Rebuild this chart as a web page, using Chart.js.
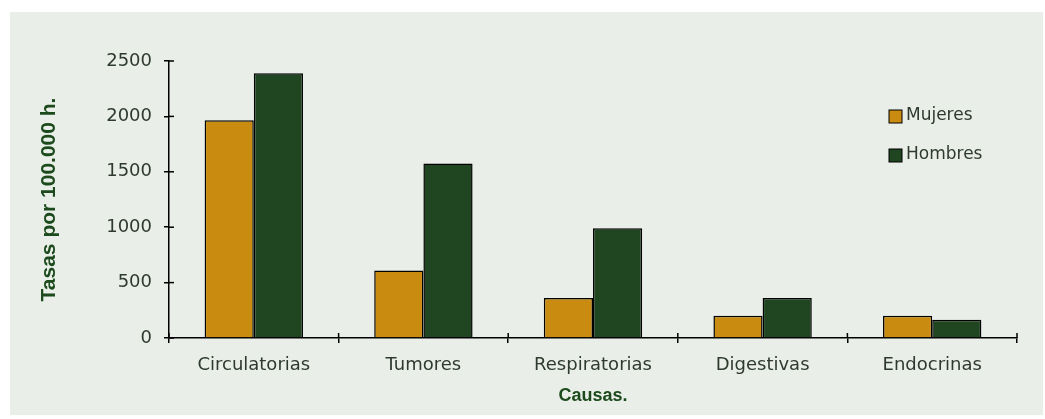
<!DOCTYPE html>
<html>
<head>
<meta charset="utf-8">
<script src="https://cdn.jsdelivr.net/npm/chart.js@4"></script>
<style>
  body { margin: 0; background: #fff; }
  #wrap { width: 1045px; height: 419px; }
</style>
</head>
<body>
<div id="wrap"><canvas id="grafico"></canvas></div>
<script>
const causas = ['Circulatorias', 'Tumores', 'Respiratorias', 'Digestivas', 'Endocrinas'];
const mujeres = [1965, 610, 360, 200, 200];
const hombres = [2390, 1575, 990, 360, 165];
const ticksY = [0, 500, 1000, 1500, 2000, 2500];

// fondo del panel verde claro
const fondo = {
  id: 'fondo',
  beforeDraw(chart) {
    const ctx = chart.ctx;
    ctx.save();
    ctx.fillStyle = '#e9efe8';
    ctx.fillRect(10, 12, 1033, 403);
    ctx.restore();
  }
};

// marcas que cruzan el eje hacia dentro
const marcas = {
  id: 'marcas',
  afterDraw(chart) {
    const ctx = chart.ctx;
    const x = chart.scales.x, y = chart.scales.y;
    ctx.save();
    ctx.strokeStyle = '#000';
    ctx.lineWidth = 1.5;
    y.ticks.forEach((t, i) => {
      const py = y.getPixelForTick(i);
      ctx.beginPath(); ctx.moveTo(x.left, py); ctx.lineTo(x.left + 5, py); ctx.stroke();
    });
    for (let i = 0; i <= causas.length; i++) {
      const px = x.left + (x.right - x.left) * i / causas.length;
      ctx.beginPath(); ctx.moveTo(px, y.bottom); ctx.lineTo(px, y.bottom - 5); ctx.stroke();
    }
    ctx.restore();
  }
};

// leyenda dentro del area del grafico
const leyenda = {
  id: 'leyenda',
  afterDraw(chart) {
    const ctx = chart.ctx;
    ctx.save();
    ctx.font = '17px "DejaVu Sans"';
    ctx.textBaseline = 'middle';
    chart.data.datasets.forEach((ds, i) => {
      const cy = 116 + i * 39;
      ctx.fillStyle = ds.backgroundColor;
      ctx.fillRect(889, cy - 6, 13, 13);
      ctx.strokeStyle = '#000';
      ctx.lineWidth = 1;
      ctx.strokeRect(889, cy - 6, 13, 13);
      ctx.fillStyle = '#2f3a2f';
      ctx.fillText(ds.label, 906, cy);
    });
    ctx.restore();
  }
};

new Chart(document.getElementById('grafico'), {
  type: 'bar',
  data: {
    labels: causas,
    datasets: [
      { label: 'Mujeres', data: mujeres, backgroundColor: '#c98b10', borderColor: '#000', borderWidth: 1.5 },
      { label: 'Hombres', data: hombres, backgroundColor: '#1f4521', borderColor: '#000', borderWidth: 1.5 }
    ]
  },
  options: {
    responsive: true,
    maintainAspectRatio: false,
    animation: false,
    categoryPercentage: 0.58,
    barPercentage: 1,
    layout: { padding: { left: 33, top: 61, right: 28, bottom: 8 } },
    plugins: { legend: { display: false }, tooltip: { enabled: false } },
    scales: {
      x: {
        afterFit(s) { s.height = 73; },
        grid: { drawOnChartArea: false, tickLength: 5, color: '#000', lineWidth: 1.5, offset: true },
        border: { color: '#000', width: 1.5 },
        ticks: { color: '#2f3a2f', font: { family: 'DejaVu Sans', size: 18 }, padding: 12 },
        title: { display: true, text: 'Causas.', color: '#1c4a1c', font: { family: 'Liberation Sans', size: 18, weight: 'bold' } }
      },
      y: {
        min: 0,
        max: 2500,
        afterFit(s) { s.width = 136; },
        afterBuildTicks(s) { s.ticks = ticksY.map(v => ({ value: v })); },
        grid: { drawOnChartArea: false, tickLength: 5, color: '#000', lineWidth: 1.5 },
        border: { color: '#000', width: 1.5 },
        ticks: { color: '#2f3a2f', font: { family: 'DejaVu Sans', size: 18 }, padding: 12, callback: v => String(v) },
        title: { display: true, text: 'Tasas por 100.000 h.', color: '#1c4a1c', font: { family: 'Liberation Sans', size: 21, weight: 'bold' } }
      }
    }
  },
  plugins: [fondo, marcas, leyenda]
});
</script>
</body>
</html>
